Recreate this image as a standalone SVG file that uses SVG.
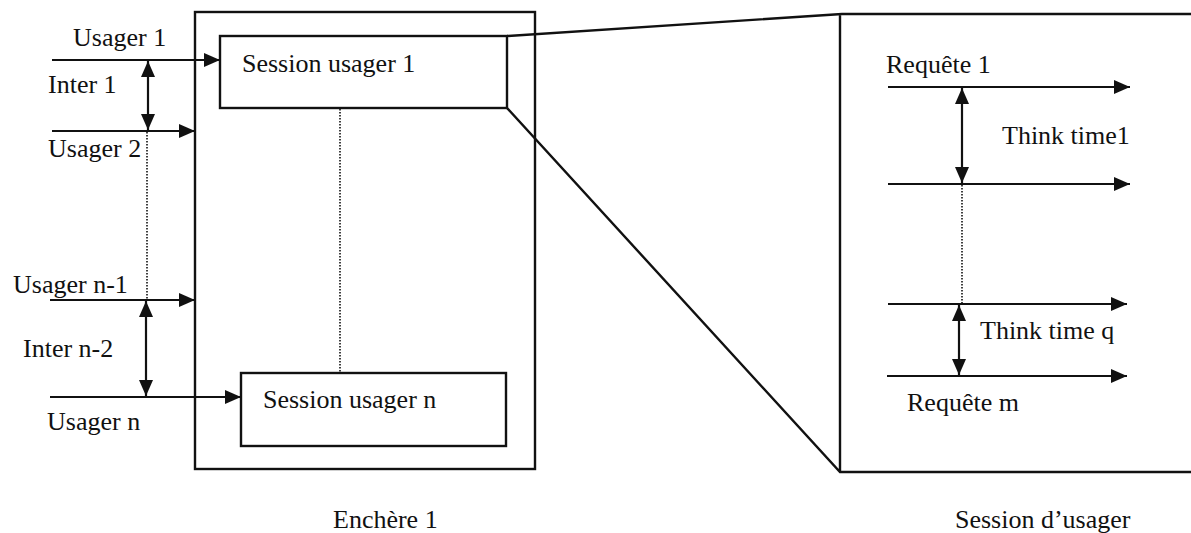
<svg xmlns="http://www.w3.org/2000/svg" width="1191" height="533" viewBox="0 0 1191 533">
  <style>
    .frame { fill: none; stroke: #111; stroke-width: 2.4; }
    .box { fill: #fff; stroke: #111; stroke-width: 2.4; }
    .arr { fill: none; stroke: #111; stroke-width: 2.2; }
    .dot { fill: none; stroke: #111; stroke-width: 1.6; stroke-dasharray: 1.5 1.5; }
    .lbl { font-family: "Liberation Serif", "Times New Roman", serif; font-size: 26px; fill: #111; }
  </style>
  <defs>
    <marker id="head" viewBox="0 0 16 14" markerWidth="16" markerHeight="14" refX="16" refY="7" orient="auto-start-reverse" markerUnits="userSpaceOnUse">
      <path d="M0,0 L16,7 L0,14 Z" fill="#111"/>
    </marker>
  </defs>
  <rect x="0" y="0" width="1191" height="533" fill="#fff"/>

  <!-- auction container -->
  <g id="enchere">
    <rect class="frame" x="195" y="12" width="340" height="457"/>
    <text class="lbl" x="333" y="528">Enchère 1</text>
  </g>

  <!-- zoom-out projection of the first session -->
  <g id="session-detail">
    <path class="frame" d="M507,36 L842,14 L1191,14 M507,108 L840,472 L1191,472 M840,14 L840,472"/>
    <text class="lbl" x="955" y="528">Session d’usager</text>
  </g>

  <g id="session-1">
    <rect class="box" x="220" y="36" width="287" height="72"/>
    <text class="lbl" x="242" y="72">Session usager 1</text>
  </g>

  <g id="session-n">
    <rect class="box" x="241" y="373" width="265" height="73"/>
    <text class="lbl" x="263" y="408">Session usager n</text>
  </g>

  <!-- user labels -->
  <g id="labels-left">
    <text class="lbl" x="73" y="46">Usager 1</text>
    <text class="lbl" x="48" y="93">Inter 1</text>
    <text class="lbl" x="48" y="157">Usager 2</text>
    <text class="lbl" x="13" y="293">Usager n-1</text>
    <text class="lbl" x="23" y="357">Inter n-2</text>
    <text class="lbl" x="47" y="430">Usager n</text>
  </g>

  <!-- request labels -->
  <g id="labels-right">
    <text class="lbl" x="886" y="73">Requête 1</text>
    <text class="lbl" x="1002" y="144">Think time1</text>
    <text class="lbl" x="980" y="339">Think time q</text>
    <text class="lbl" x="907" y="411">Requête m</text>
  </g>

  <g id="connectors">
    <!-- arrivals -->
    <line class="arr" x1="52" y1="60" x2="220" y2="60" marker-end="url(#head)"/>
    <line class="arr" x1="52" y1="131" x2="195" y2="131" marker-end="url(#head)"/>
    <line class="arr" x1="50" y1="300" x2="195" y2="300" marker-end="url(#head)"/>
    <line class="arr" x1="50" y1="397" x2="241" y2="397" marker-end="url(#head)"/>
    <!-- inter-arrival gaps -->
    <line class="arr" x1="148" y1="61" x2="148" y2="130" marker-start="url(#head)" marker-end="url(#head)"/>
    <line class="dot" x1="147" y1="132" x2="147" y2="299"/>
    <line class="arr" x1="146" y1="301" x2="146" y2="396" marker-start="url(#head)" marker-end="url(#head)"/>
    <line class="dot" x1="340" y1="109" x2="340" y2="372"/>
    <!-- requests -->
    <line class="arr" x1="888" y1="87" x2="1130" y2="87" marker-end="url(#head)"/>
    <line class="arr" x1="888" y1="184" x2="1130" y2="184" marker-end="url(#head)"/>
    <line class="arr" x1="888" y1="304" x2="1127" y2="304" marker-end="url(#head)"/>
    <line class="arr" x1="887" y1="376" x2="1127" y2="376" marker-end="url(#head)"/>
    <!-- think times -->
    <line class="arr" x1="962" y1="88" x2="962" y2="183" marker-start="url(#head)" marker-end="url(#head)"/>
    <line class="dot" x1="962" y1="185" x2="962" y2="303"/>
    <line class="arr" x1="959" y1="305" x2="959" y2="375" marker-start="url(#head)" marker-end="url(#head)"/>
  </g>
</svg>
